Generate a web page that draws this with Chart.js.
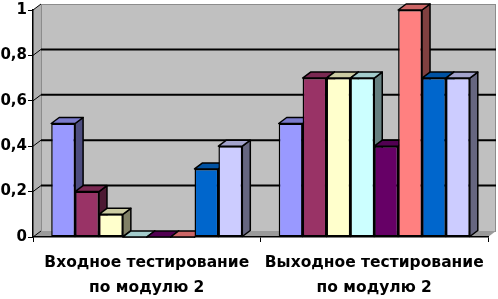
<!DOCTYPE html>
<html>
<head>
<meta charset="utf-8">
<script src="https://cdn.jsdelivr.net/npm/chart.js@4/dist/chart.umd.min.js"></script>
<style>
html,body{margin:0;padding:0;background:#fff;}
canvas{display:block;}
</style>
</head>
<body>
<canvas id="c" width="498" height="299"></canvas>
<script>
// ---- data ----
const categories = [["Входное тестирование", "по модулю 2"], ["Выходное тестирование", "по модулю 2"]];
const series1 = [0.5, 0.5];
const series2 = [0.2, 0.7];
const series3 = [0.1, 0.7];
const series4 = [0.0, 0.7];
const series5 = [0.0, 0.4];
const series6 = [0.0, 1.0];
const series7 = [0.3, 0.7];
const series8 = [0.4, 0.7];
const seriesNames = ["Ряд1", "Ряд2", "Ряд3", "Ряд4", "Ряд5", "Ряд6", "Ряд7", "Ряд8"];
const yTicks = [0, 0.2, 0.4, 0.6, 0.8, 1];

// ---- styles ----
const seriesColors = ["#9999FF", "#993366", "#FFFFCC", "#CCFFFF", "#660066", "#FF8080", "#0066CC", "#CCCCFF"];
const DX = 8, DY = 6;

function shade(hex, f) {
  const n = parseInt(hex.slice(1), 16);
  const r = Math.round(((n >> 16) & 255) * f), g = Math.round(((n >> 8) & 255) * f), b = Math.round((n & 255) * f);
  return `rgb(${r},${g},${b})`;
}

const allSeries = [series1, series2, series3, series4, series5, series6, series7, series8];

const walls = {
  id: 'walls',
  beforeDraw(chart) {
    const {ctx, chartArea: a, scales: {y}} = chart;
    ctx.save();
    // left side wall
    ctx.fillStyle = '#B0B0B0';
    ctx.beginPath();
    ctx.moveTo(a.left, a.top); ctx.lineTo(a.left + DX, a.top - DY);
    ctx.lineTo(a.left + DX, a.bottom - DY); ctx.lineTo(a.left, a.bottom);
    ctx.closePath(); ctx.fill();
    // back wall
    ctx.fillStyle = '#C0C0C0';
    ctx.fillRect(a.left + DX, a.top - DY, a.right - a.left, a.bottom - a.top);
    ctx.strokeStyle = '#8C8C8C'; ctx.lineWidth = 1;
    ctx.strokeRect(a.left + DX + 0.5, a.top - DY + 0.5, a.right - a.left - 1, a.bottom - a.top);
    // floor
    ctx.fillStyle = '#9A9A9A';
    ctx.beginPath();
    ctx.moveTo(a.left, a.bottom); ctx.lineTo(a.left + DX, a.bottom - DY);
    ctx.lineTo(a.right + DX, a.bottom - DY); ctx.lineTo(a.right, a.bottom);
    ctx.closePath(); ctx.fill();
    // gridlines on back wall
    yTicks.forEach(v => {
      const py = y.getPixelForValue(v);
      if (v > 0 && v < 1) {
        ctx.strokeStyle = '#000'; ctx.lineWidth = 2;
        ctx.beginPath(); ctx.moveTo(a.left + DX, py - DY); ctx.lineTo(a.right + DX, py - DY); ctx.stroke();
      }
      ctx.strokeStyle = '#000'; ctx.lineWidth = 1;
      ctx.beginPath(); ctx.moveTo(a.left, py); ctx.lineTo(a.left + DX, py - DY); ctx.stroke();
    });
    ctx.restore();
  },
  beforeDatasetsDraw(chart) {
    const ctx = chart.ctx;
    ctx.save();
    ctx.lineWidth = 1.5; ctx.strokeStyle = '#000'; ctx.lineJoin = 'round';
    chart.data.datasets.forEach((ds, i) => {
      const meta = chart.getDatasetMeta(i);
      meta.data.forEach(bar => {
        const p = bar.getProps(['x', 'y', 'base', 'width'], true);
        const l = p.x - p.width / 2, r = p.x + p.width / 2, t = p.y, b = p.base;
        // side face
        ctx.fillStyle = shade(seriesColors[i], 0.5);
        ctx.beginPath();
        ctx.moveTo(r, t); ctx.lineTo(r + DX, t - DY); ctx.lineTo(r + DX, b - DY); ctx.lineTo(r, b);
        ctx.closePath(); ctx.fill(); ctx.stroke();
        // top face
        ctx.fillStyle = shade(seriesColors[i], 0.8);
        ctx.beginPath();
        ctx.moveTo(l, t); ctx.lineTo(l + DX, t - DY); ctx.lineTo(r + DX, t - DY); ctx.lineTo(r, t);
        ctx.closePath(); ctx.fill(); ctx.stroke();
      });
    });
    ctx.restore();
  }
};

const xFont = {family: "'DejaVu Sans', sans-serif", weight: 'bold', size: 15.5, lineHeight: 1.6};
const yFont = {family: "'DejaVu Sans', sans-serif", weight: 'bold', size: 15};

new Chart(document.getElementById('c'), {
  type: 'bar',
  data: {
    labels: categories,
    datasets: allSeries.map((s, i) => ({
      label: seriesNames[i],
      data: s,
      backgroundColor: seriesColors[i],
      borderColor: '#000',
      borderWidth: 1.5,
      borderSkipped: false,
      categoryPercentage: 0.84,
      barPercentage: 1.0
    }))
  },
  options: {
    responsive: false,
    animation: false,
    devicePixelRatio: 1,
    layout: {padding: {left: 0, top: 8, right: 10, bottom: 0}},
    plugins: {legend: {display: false}, tooltip: {enabled: false}},
    scales: {
      x: {
        ticks: {color: '#000', font: xFont, padding: 9, maxRotation: 0, autoSkip: false},
        grid: {display: true, drawOnChartArea: false, drawTicks: true, tickLength: 5, offset: true, color: '#000'},
        border: {display: true, color: '#000', width: 1.5},
        afterFit(s) { s.height = 62; }
      },
      y: {
        min: 0, max: 1,
        afterBuildTicks(s) { s.ticks = yTicks.map(v => ({value: v})); },
        ticks: {color: '#000', font: yFont, padding: 1,
          callback: v => String(Math.round(v * 10) / 10).replace('.', ',')},
        grid: {display: true, drawOnChartArea: false, drawTicks: true, tickLength: 5, color: '#000'},
        border: {display: true, color: '#000', width: 1.5},
        afterFit(s) { s.width = 33; }
      }
    }
  },
  plugins: [walls]
});
</script>
</body>
</html>
